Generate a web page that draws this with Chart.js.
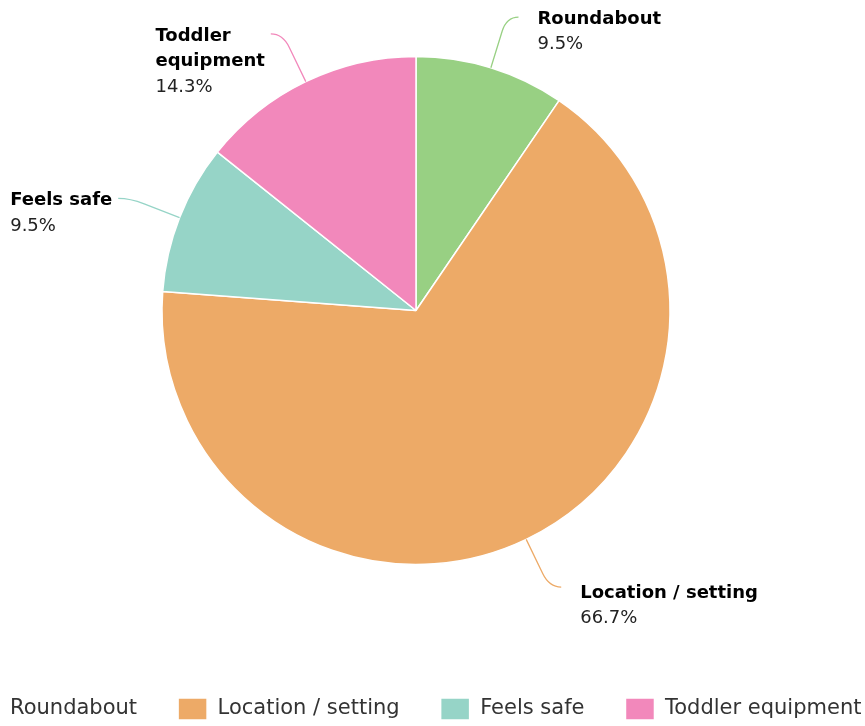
<!DOCTYPE html>
<html>
<head>
<meta charset="utf-8">
<script src="https://cdn.jsdelivr.net/npm/chart.js@4.4.1/dist/chart.umd.min.js"></script>
<style>
  html, body { margin: 0; padding: 0; background: #fff; overflow: hidden; }
  /* canvas is wider than the window so the legend can run past the left edge */
  #wrap { position: absolute; left: -84px; top: -36px; width: 1000px; height: 766px; }
</style>
</head>
<body>
<div id="wrap"><canvas id="chart"></canvas></div>
<script>
var categories = ['Roundabout', 'Location / setting', 'Feels safe', 'Toddler equipment'];
var counts = [2, 14, 2, 3];
var colors = ['#98d083', '#edaa67', '#96d4c7', '#f288bb'];

Chart.defaults.font.family = '"DejaVu Sans", Verdana, sans-serif';

function wrapText(ctx, text, maxWidth) {
  var words = text.split(' ');
  var lines = [];
  var line = '';
  words.forEach(function(w) {
    var test = line ? line + ' ' + w : w;
    if (line && ctx.measureText(test).width > maxWidth) {
      lines.push(line);
      line = w;
    } else {
      line = test;
    }
  });
  if (line) lines.push(line);
  return lines;
}

// labels outside the slices with curved connectors
var sliceLabels = {
  id: 'sliceLabels',
  afterDatasetsDraw: function(chart) {
    var ctx = chart.ctx;
    var meta = chart.getDatasetMeta(0);
    var total = counts.reduce(function(a, b) { return a + b; }, 0);
    meta.data.forEach(function(arc, i) {
      var mid = (arc.startAngle + arc.endAngle) / 2;
      var r = arc.outerRadius;
      var cos = Math.cos(mid), sin = Math.sin(mid);
      var right = cos >= 0;
      var dir = right ? 1 : -1;
      var lower = sin > 0.5 ? 4 : 0;
      var x0 = arc.x + cos * r, y0 = arc.y + sin * r;
      var x1 = arc.x + cos * (r + 38), y1 = arc.y + sin * (r + 38);
      var x2 = arc.x + cos * (r + 53), y2 = arc.y + sin * (r + 53);
      var x3 = x2 + dir * 12, y3 = y2;

      ctx.save();
      ctx.strokeStyle = colors[i];
      ctx.lineWidth = 1.3;
      ctx.beginPath();
      ctx.moveTo(x0, y0);
      ctx.lineTo(x1, y1);
      ctx.quadraticCurveTo(x2, y2, x3, y3);
      ctx.stroke();

      var pct = (counts[i] / total * 100).toFixed(1) + '%';
      ctx.font = 'bold 18px "DejaVu Sans"';
      var lines = wrapText(ctx, categories[i], right ? 260 : 150);
      var blockW = 0;
      lines.forEach(function(l) { blockW = Math.max(blockW, ctx.measureText(l).width); });
      ctx.font = '18px "DejaVu Sans"';
      blockW = Math.max(blockW, ctx.measureText(pct).width);

      var tx = right ? x3 + 19 : x3 - 6 - blockW;
      var ty = y3 + 2 + lower;
      ctx.textAlign = 'left';
      ctx.textBaseline = 'middle';
      ctx.font = 'bold 18px "DejaVu Sans"';
      ctx.fillStyle = '#000';
      lines.forEach(function(l) { ctx.fillText(l, tx, ty); ty += 25.5; });
      ctx.font = '18px "DejaVu Sans"';
      ctx.fillStyle = '#222';
      ctx.fillText(pct, tx, ty);
      ctx.restore();
    });
  }
};

var ctx = document.getElementById('chart').getContext('2d');
var chart = new Chart(ctx, {
  type: 'pie',
  data: {
    labels: categories,
    datasets: [{
      data: counts,
      backgroundColor: colors,
      borderColor: '#ffffff',
      borderWidth: 1.5,
      hoverOffset: 0,
      radius: 254
    }]
  },
  options: {
    responsive: true,
    maintainAspectRatio: false,
    animation: false,
    layout: { padding: 0 },
    plugins: {
      tooltip: { enabled: false },
      legend: {
        position: 'bottom',
        labels: {
          font: { size: 21 },
          color: '#333',
          boxWidth: 29,
          boxHeight: 22,
          padding: 41
        }
      }
    }
  },
  plugins: [sliceLabels]
});
</script>
</body>
</html>
